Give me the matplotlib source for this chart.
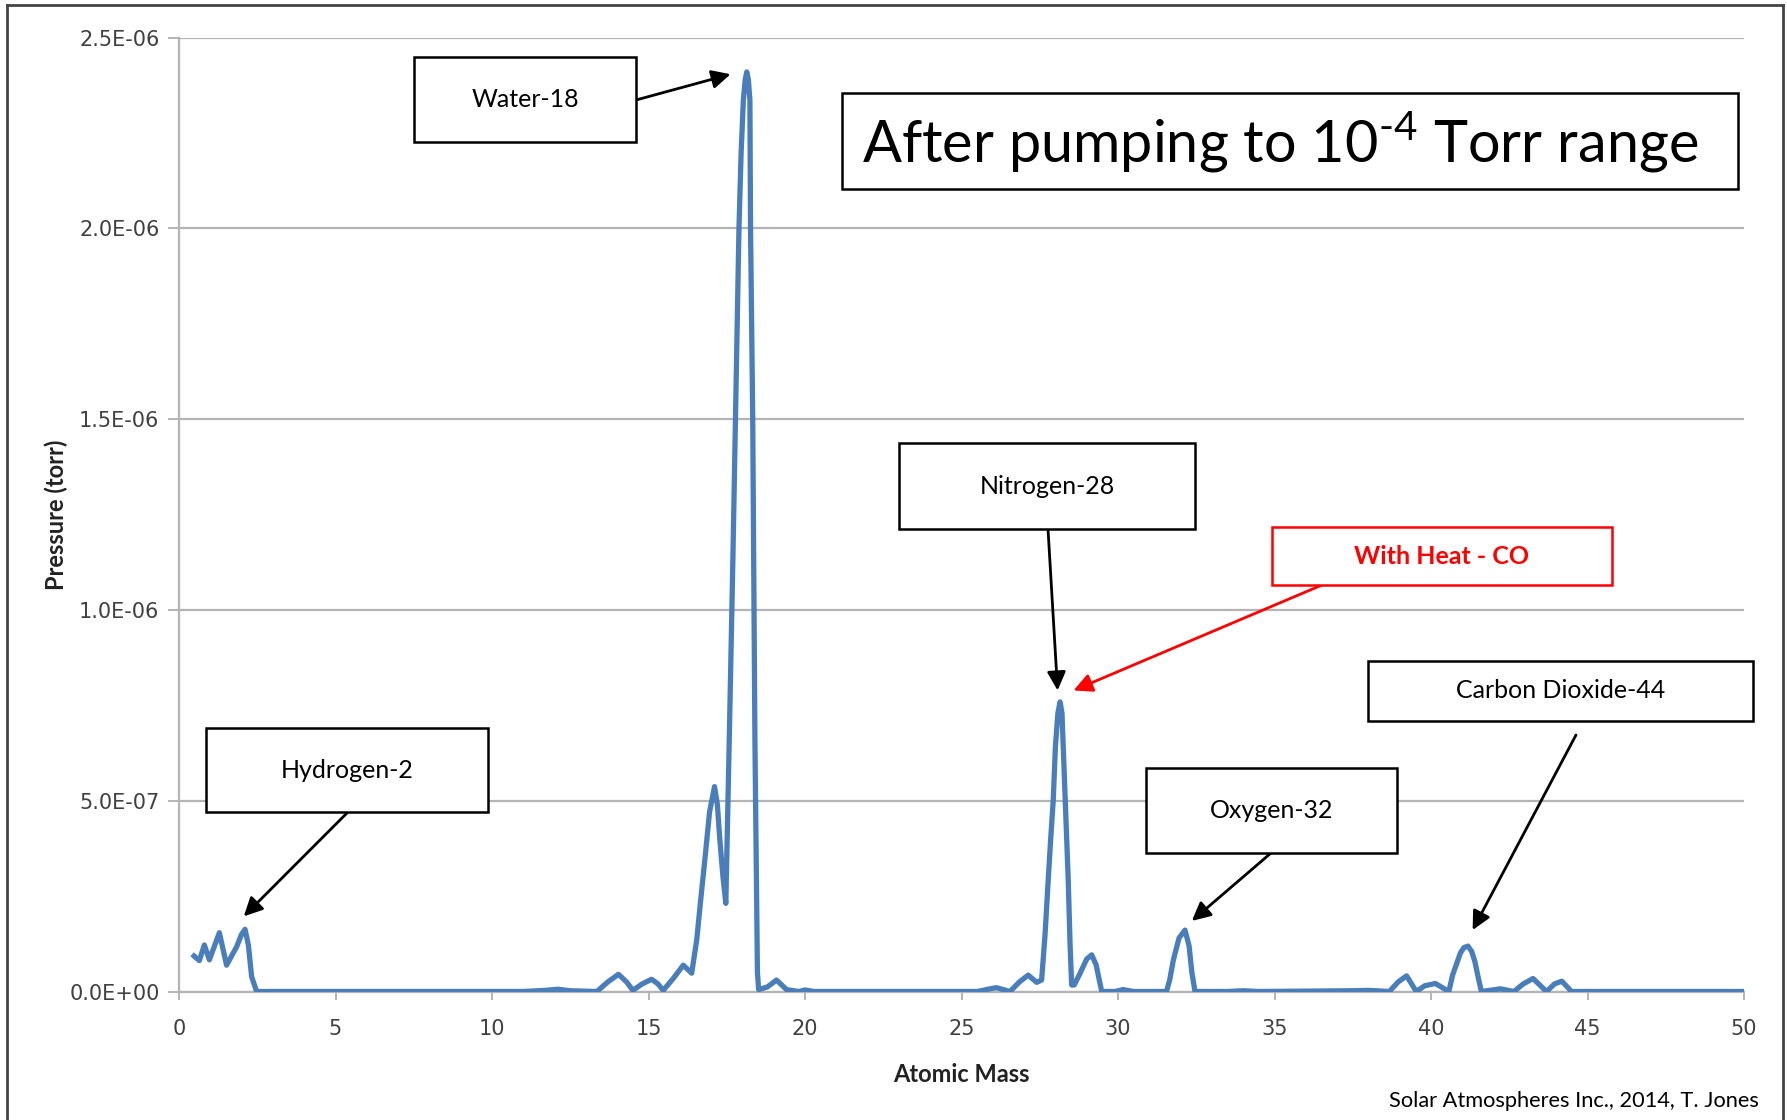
import matplotlib
matplotlib.use("Agg")
import matplotlib.pyplot as plt
from matplotlib.patches import Rectangle

# mass spectrum (pressure in 1e-6 torr)
masa = [0.48, 0.65, 0.81, 0.97, 1.29, 1.52, 1.84, 2.0, 2.11, 2.22, 2.32, 2.48, 3.0, 5.0, 8.0, 11.0,
        11.7, 12.1, 12.5, 13.35, 13.7, 14.04, 14.3, 14.5, 14.8, 15.1, 15.3, 15.47, 15.8,
        16.11, 16.25, 16.38, 16.54, 16.68, 16.81, 16.95, 17.11, 17.2, 17.28, 17.38, 17.47,
        17.58, 17.7, 17.82, 17.89, 17.96, 18.03, 18.09, 18.14, 18.19, 18.24, 18.26, 18.33,
        18.40, 18.48, 18.52, 18.8, 19.09, 19.41, 19.8, 20.0, 20.3, 22.0, 25.5, 25.91, 26.12,
        26.55, 26.85, 27.13, 27.40, 27.56, 27.67, 27.77, 27.85, 27.93, 28.0, 28.08, 28.15,
        28.21, 28.25, 28.31, 28.36, 28.41, 28.47, 28.52, 28.6, 28.79, 29.0, 29.16, 29.3,
        29.48, 29.9, 30.16, 30.5, 31.55, 31.65, 31.77, 31.95, 32.14, 32.27, 32.36, 32.46,
        33.5, 34.0, 34.5, 37.5, 38.0, 38.67, 38.95, 39.22, 39.53, 39.8, 40.14, 40.57, 40.69,
        40.94, 41.05, 41.18, 41.3, 41.4, 41.5, 41.61, 42.22, 42.65, 42.95, 43.26, 43.69,
        43.95, 44.18, 44.49, 45.0, 47.5, 50.0]
pressao = [0.093, 0.081, 0.122, 0.083, 0.154, 0.069, 0.117, 0.150, 0.163, 0.12, 0.039, 0.0, 0.0, 0.0, 0.0, 0.0,
           0.003, 0.006, 0.002, 0.0, 0.025, 0.045, 0.025, 0.003, 0.02, 0.032, 0.02, 0.003, 0.035,
           0.069, 0.058, 0.048, 0.135, 0.25, 0.353, 0.47, 0.537, 0.49, 0.397, 0.30, 0.231,
           0.659, 1.15, 1.68, 2.0, 2.2, 2.336, 2.39, 2.41, 2.39, 2.336, 2.0, 1.5,
           0.66, 0.05, 0.005, 0.012, 0.03, 0.005, 0.0, 0.004, 0.0, 0.0, 0.0, 0.007, 0.01,
           0.0, 0.025, 0.043, 0.024, 0.03, 0.15, 0.292, 0.40, 0.5, 0.641, 0.73, 0.759,
           0.73, 0.641, 0.5, 0.40, 0.292, 0.12, 0.017, 0.017, 0.048, 0.085, 0.096, 0.07,
           0.0, 0.0, 0.005, 0.0, 0.0, 0.03, 0.083, 0.14, 0.161, 0.12, 0.05, 0.0,
           0.0, 0.002, 0.0, 0.002, 0.003, 0.0, 0.025, 0.041, 0.0, 0.015, 0.021, 0.0, 0.043,
           0.101, 0.115, 0.119, 0.105, 0.079, 0.04, 0.0, 0.007, 0.0, 0.02, 0.034, 0.0,
           0.02, 0.027, 0.0, 0.0, 0.0, 0.0]

yticks = [0.0, 0.5e-6, 1.0e-6, 1.5e-6, 2.0e-6, 2.5e-6]
ytick_labels = ["0.0E+00", "5.0E-07", "1.0E-06", "1.5E-06", "2.0E-06", "2.5E-06"]
xticks = [0, 5, 10, 15, 20, 25, 30, 35, 40, 45, 50]

# label, box (x0, y0, x1, y1 in image pixels, top-left origin), arrow tail (px), arrow tip (data)
rotulos = [
    ("Water-18", (414, 57, 636, 142), (636, 100), (17.62, 2.404e-6), "black"),
    ("Nitrogen-28", (899, 443, 1195, 529), (1048, 529), (28.07, 0.789e-6), "black"),
    ("With Heat - CO", (1272, 527, 1612, 585), (1322, 585), (28.58, 0.789e-6), "red"),
    ("Hydrogen-2", (206, 728, 488, 812), (348, 812), (2.07, 0.197e-6), "black"),
    ("Oxygen-32", (1146, 768, 1397, 853), (1271, 853), (32.36, 0.185e-6), "black"),
    ("Carbon Dioxide-44", (1368, 661, 1753, 721), (1576, 735), (41.33, 0.161e-6), "black"),
]

W, H = 1787, 1120


def fx(x):
    return x / W


def fy(y):
    return 1 - y / H


def main():
    plt.rcParams["font.family"] = ["Lato", "DejaVu Sans"]
    plt.rcParams["mathtext.fontset"] = "custom"
    plt.rcParams["mathtext.rm"] = "Lato"
    fig = plt.figure(figsize=(W / 100, H / 100), dpi=100)
    ax = fig.add_axes([fx(179), fy(991.5), fx(1744) - fx(179), fy(37.6) - fy(991.5)])

    y = [v * 1e-6 for v in pressao]
    ax.plot(masa, y, color="#4a7ebb", lw=3.8, solid_joinstyle="round", zorder=3)

    ax.set_xlim(0, 50)
    ax.set_ylim(0, 2.5e-6)
    ax.set_xticks(xticks)
    ax.set_xticklabels([str(t) for t in xticks], family="DejaVu Sans", fontsize=15, color="#404040")
    ax.set_yticks(yticks)
    ax.set_yticklabels(ytick_labels, family="DejaVu Sans", fontsize=15, color="#404040")
    ax.yaxis.grid(True, color="#b4b4b4", lw=1.6)
    ax.set_axisbelow(True)
    for s in ["top", "right"]:
        ax.spines[s].set_visible(False)
    for s in ["left", "bottom"]:
        ax.spines[s].set_color("#b4b4b4")
        ax.spines[s].set_linewidth(1.6)
    ax.tick_params(axis="y", length=8, width=1.4, color="#b4b4b4", pad=6)
    ax.tick_params(axis="x", length=6, width=1.4, color="#b4b4b4", pad=14)

    ax.set_xlabel("Atomic Mass", fontsize=17, fontweight="bold", color="#222222", labelpad=17)
    ax.set_ylabel("Pressure (torr)", fontsize=17, fontweight="bold", color="#222222", labelpad=1)

    for texto, (x0, y0, x1, y1), cauda, ponta, cor in rotulos:
        fig.patches.append(Rectangle((fx(x0), fy(y1)), fx(x1) - fx(x0), fy(y0) - fy(y1),
                                     transform=fig.transFigure, facecolor="white",
                                     edgecolor=cor, lw=1.8, zorder=5))
        fig.text(fx((x0 + x1) / 2), fy((y0 + y1) / 2), texto, ha="center", va="center",
                 fontsize=18, color=cor, fontweight="bold" if cor == "red" else "normal",
                 zorder=6)
        ax.annotate("", xy=ponta, xycoords="data",
                    xytext=(fx(cauda[0]), fy(cauda[1])), textcoords="figure fraction",
                    arrowprops=dict(arrowstyle="-|>", color=cor, lw=2, mutation_scale=28,
                                    shrinkA=0, shrinkB=0), zorder=4)

    # title box
    fig.patches.append(Rectangle((fx(842), fy(189)), fx(1738) - fx(842), fy(93) - fy(189),
                                 transform=fig.transFigure, facecolor="white",
                                 edgecolor="black", lw=1.8, zorder=5))
    fig.text(fx(862), fy(142), r"After pumping to 10$^{\text{-4}}$ Torr range",
             ha="left", va="center", fontsize=41.5, color="black", zorder=6)

    fig.text(fx(1759), fy(1101), "Solar Atmospheres Inc., 2014, T. Jones",
             ha="right", va="center", fontsize=15.7, color="black")

    # outer frame of the slide
    fig.add_artist(plt.Line2D([fx(7), fx(7)], [0, fy(5)], transform=fig.transFigure,
                              color="#444444", lw=2))
    fig.add_artist(plt.Line2D([fx(7), fx(1783)], [fy(5), fy(5)], transform=fig.transFigure,
                              color="#444444", lw=2))
    fig.add_artist(plt.Line2D([fx(1783), fx(1783)], [0, fy(5)], transform=fig.transFigure,
                              color="#444444", lw=2))

    fig.savefig("out.png", dpi=100)


if __name__ == "__main__":
    main()
